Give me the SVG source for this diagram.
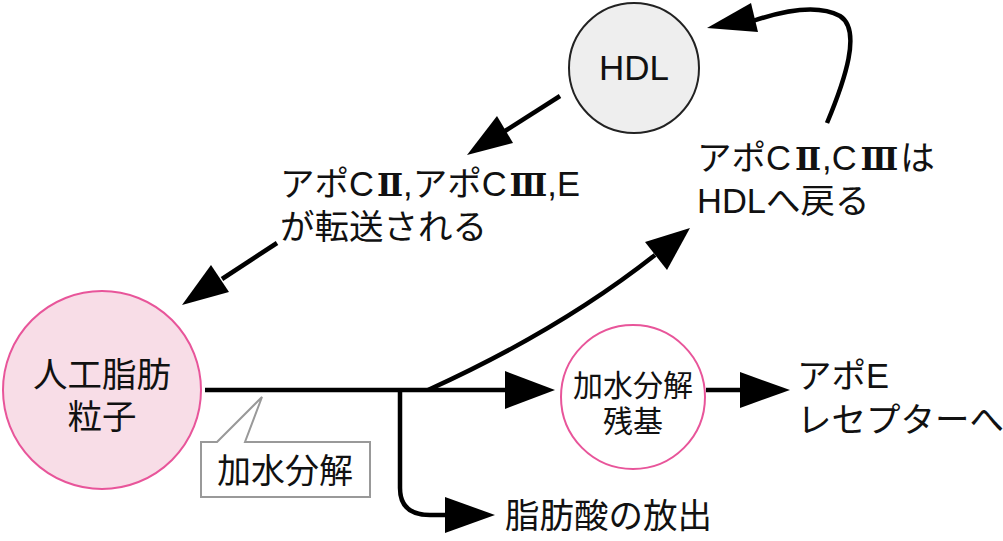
<svg xmlns="http://www.w3.org/2000/svg" width="1003" height="541" viewBox="0 0 1003 541">
<style>
text{font-family:"Liberation Sans","Noto Sans CJK JP",sans-serif;fill:#111}
.rn{font-family:"DejaVu Serif","Noto Sans CJK JP",serif;font-size:31px;font-weight:bold}
.big{font-size:34.5px}
.hdl{font-size:35px}
.mid{font-size:34px}
.sm{font-size:30px}
.ln{fill:none;stroke:#000;stroke-width:4.5}
</style>
<rect width="1003" height="541" fill="#fff"/>
<g id="connectors">
<line class="ln" x1="560" y1="96" x2="505" y2="131"/>
<polygon points="467,155 497,116 513,143" fill="#000"/>
<line class="ln" x1="277" y1="243" x2="222" y2="279"/>
<polygon points="182,305 211,265 229,292" fill="#000"/>
<line class="ln" x1="205" y1="390" x2="510" y2="390"/>
<polygon points="555,390 505,371 505,409" fill="#000"/>
<path class="ln" d="M400,390 V488 Q400,515 430,515 H450"/>
<polygon points="495,515 445,497 445,533" fill="#000"/>
<path class="ln" d="M428,390 Q560,330 655,255"/>
<polygon points="690,228 645,242 667,270" fill="#000"/>
<line class="ln" x1="706" y1="390" x2="745" y2="390"/>
<polygon points="790,390 740,372 740,408" fill="#000"/>
<path class="ln" d="M827,123 C845,80 862,30 840,16 C820,5 790,8 750,22"/>
<polygon points="707,28 751,3 758,32" fill="#000"/>
</g>
<g id="hdl">
<circle cx="634" cy="68" r="65" fill="#eeeeee" stroke="#222" stroke-width="2"/>
<text x="634" y="80" class="hdl" text-anchor="middle">HDL</text>
</g>
<g id="particle">
<circle cx="102" cy="390" r="99" fill="#f8dde7" stroke="#e8559a" stroke-width="2"/>
<text x="102" y="387" class="big" text-anchor="middle">人工脂肪</text>
<text x="102" y="429" class="big" text-anchor="middle">粒子</text>
</g>
<g id="residue">
<circle cx="633" cy="397" r="72" fill="#fff" stroke="#e8559a" stroke-width="2"/>
<text x="633" y="396" class="sm" text-anchor="middle">加水分解</text>
<text x="633" y="432" class="sm" text-anchor="middle">残基</text>
</g>
<g id="label-transfer">
<text x="280" y="196" class="big">アポC<tspan class="rn" dx="3">Ⅱ</tspan><tspan dx="0">,アポC</tspan><tspan class="rn" dx="3">Ⅲ</tspan><tspan dx="0">,E</tspan></text>
<text x="280" y="239" class="big">が転送される</text>
</g>
<g id="label-return">
<text x="697" y="170" class="big">アポC<tspan class="rn" dx="4">Ⅱ</tspan><tspan dx="1">,C</tspan><tspan class="rn" dx="4">Ⅲ</tspan><tspan dx="2">は</tspan></text>
<text x="697" y="213" class="big">HDLへ戻る</text>
</g>
<g id="label-apoE">
<text x="797" y="388" class="big">アポE</text>
<text x="797" y="432" class="big">レセプターへ</text>
</g>
<g id="label-fa">
<text x="505" y="528" class="big">脂肪酸の放出</text>
</g>
<g id="callout">
<path d="M217,442 L262,397 L245,442 H370 V497 H201 V442 Z" fill="#fff" stroke="#999" stroke-width="2"/>
<text x="285" y="483" class="mid" text-anchor="middle">加水分解</text>
</g>
</svg>
